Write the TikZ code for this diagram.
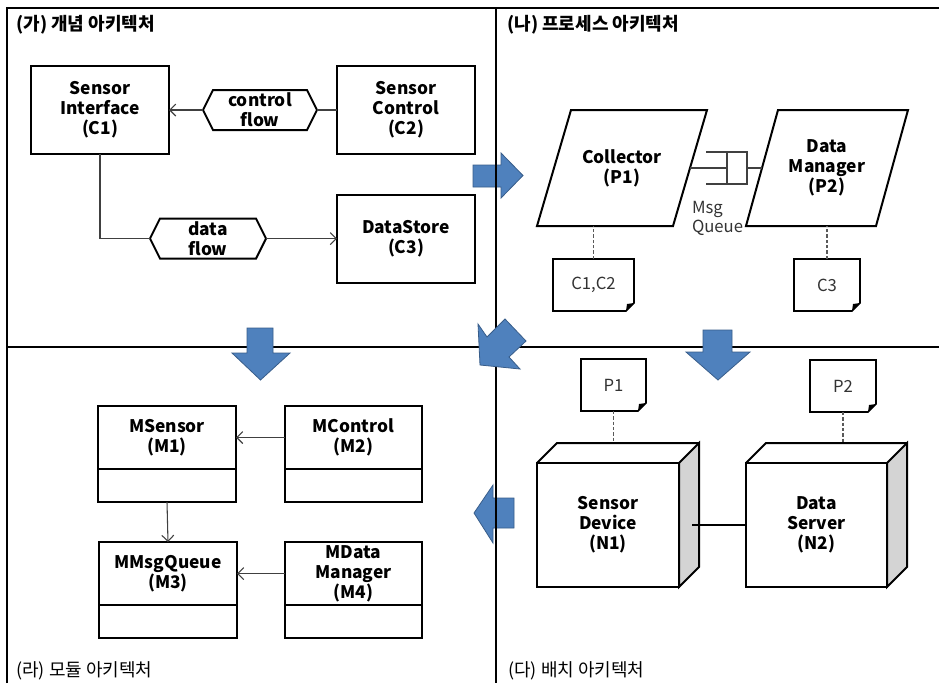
\documentclass[tikz,border=0pt]{standalone}
\usepackage{fontspec}
\setmainfont{Noto Sans CJK KR}
\usetikzlibrary{arrows.meta,calc}
\definecolor{arrowblue}{RGB}{79,129,189}
\definecolor{arrowedge}{RGB}{56,93,138}
\definecolor{nodegray}{RGB}{212,212,212}
\newcommand\mkhex[1]{\draw[shapeline] (#1.west) -- ($(#1.north west)+(10,0)$) -- ($(#1.north east)+(-10,0)$) -- (#1.east) -- ($(#1.south east)+(-10,0)$) -- ($(#1.south west)+(10,0)$) -- cycle;}
\newcommand\mkpara[2]{\draw[shapeline] ($(#1.north west)+(#2,0)$) -- ($(#1.north east)+(#2,0)$) -- ($(#1.south east)+(-#2,0)$) -- ($(#1.south west)+(-#2,0)$) -- cycle;}
\newcommand\mkdoc[1]{\draw[shapeline, line width=1.3pt] (#1.north west) -- (#1.north east) -- ($(#1.south east)+(0,-8)$) -- ($(#1.south east)+(-8,0)$) -- (#1.south west) -- cycle;
  \fill ($(#1.south east)+(0,-8)$) -- ($(#1.south east)+(-8,0)$) -- ($(#1.south east)+(-7,-7)$) -- cycle;}
\newcommand\mkcube[1]{\filldraw[shapeline, fill=nodegray] (#1.north east) -- ++(20,-20) -- ($(#1.south east)+(20,-20)$) -- (#1.south east) -- cycle;
  \draw[shapeline] (#1.north west) -- ++(20,-20) -- ($(#1.north east)+(20,-20)$);}
\begin{document}
\begin{tikzpicture}[x=0.75pt,y=-0.75pt,
  frameline/.style={line width=2.2pt},
  box/.style={draw, line width=1.5pt, inner sep=0pt, outer sep=0pt, align=center, font=\bfseries\fontsize{13}{15}\selectfont},
  shapeline/.style={line width=1.5pt, line join=miter},
  plain/.style={inner sep=0pt, outer sep=0pt, align=center, font=\bfseries\fontsize{13}{15}\selectfont},
  lighttext/.style={inner sep=0pt, outer sep=0pt, align=center, text=black!80, font=\fontsize{12.5}{14.25}\selectfont},
  conn/.style={draw=black!75, line width=0.8pt},
  arr/.style={-{Straight Barb[length=4.5pt,width=9pt,line width=0.8pt]}},
  dotconn/.style={draw=black!65, line width=0.8pt, dash pattern=on 2.5pt off 1.5pt},
  bluearrow/.style={fill=arrowblue, draw=arrowedge, line width=0.6pt, line join=miter},
  title/.style={anchor=west, inner sep=0pt, font=\fontsize{13.5}{15}\selectfont},
]
\useasboundingbox (0,0) rectangle (939,683);
\fill[white] (0,0) rectangle (939,683);

% blue arrows that sit under the vertical divider
\draw[bluearrow] (473,165) -- (501,165) -- (501,153) -- (523,175.5) -- (501,198) -- (501,187) -- (473,187) -- cycle;
\draw[bluearrow] (514,498) -- (493,498) -- (493,485) -- (474,513) -- (493,543) -- (493,528) -- (514,528) -- cycle;

% frame
\draw[frameline] (7,683) -- (7,8) -- (939,8);
\draw[frameline] (7,347) -- (939,347);
\draw[frameline] (496,8) -- (496,683);

% blue arrows on top
\draw[bluearrow] (247,328) -- (273,328) -- (273,353) -- (290,353) -- (260.5,380) -- (232,353) -- (247,353) -- cycle;
\draw[bluearrow] (703,330) -- (732,330) -- (732,352) -- (750,352) -- (718,380) -- (686,352) -- (703,352) -- cycle;
\draw[bluearrow] (478,324) -- (487,337) -- (505,319) -- (526,341) -- (509,357) -- (520,369) -- (480,365) -- cycle;

% titles
\node[title, font=\bfseries\fontsize{13.5}{15}\selectfont] (t1) at (16,25) {(가) 개념 아키텍처};
\node[title, font=\bfseries\fontsize{13.5}{15}\selectfont] (t2) at (507,25) {(나) 프로세스 아키텍처};
\node[title] (t3) at (16,671) {(라) 모듈 아키텍처};
\node[title] (t4) at (508,671) {(다) 배치 아키텍처};

% ---- (가) concept
\node[box, minimum width=103.5pt, minimum height=66pt] (C1) at (100,110) {Sensor\\Interface\\(C1)};
\node[box, minimum width=103.5pt, minimum height=66pt] (C2) at (406,110) {Sensor\\Control\\(C2)};
\node[box, minimum width=103.5pt, minimum height=66pt] (C3) at (406,238.5) {DataStore\\(C3)};
\node[plain, minimum width=85.5pt, minimum height=30pt] (cf) at (260,110) {control\\flow};
\mkhex{cf}
\node[plain, minimum width=87pt, minimum height=30pt] (df) at (208,238.5) {data\\flow};
\mkhex{df}
\draw[conn, arr] (cf.west) -- (C1.east);
\draw[conn] (C2.west) -- (cf.east);
\draw[conn] (C1.south) |- (df.west);
\draw[conn, arr] (df.east) -- (C3.west);

% ---- (나) process
\node[plain, minimum width=102pt, minimum height=87pt] (P1) at (622,168) {Collector\\(P1)};
\mkpara{P1}{17}
\node[plain, minimum width=97.5pt, minimum height=87pt] (P2) at (827,168) {Data\\Manager\\(P2)};
\mkpara{P2}{16}
\node[draw=black!75, line width=0.8pt, minimum width=15pt, minimum height=24pt, inner sep=0pt, outer sep=0pt] (Q) at (737,168) {};
\draw[conn] (P1.east) -- (Q.west);
\draw[conn] (Q.east) -- (P2.west);
\draw[conn] (Q.north east) -- ++(-41,0);
\draw[conn] (Q.south east) -- ++(-41,0);
\node[lighttext, anchor=north west, align=left] (mq) at (692,201) {Msg\\Queue};

\node[lighttext, minimum width=60.75pt, minimum height=39pt] (D1) at (593.5,285) {C1,C2};
\mkdoc{D1}
\node[lighttext, minimum width=49.5pt, minimum height=39pt] (D2) at (827,285) {C3};
\mkdoc{D2}
\draw[dotconn] (D1.north) -- (D1.north |- P1.south);
\draw[dotconn] (D2.north) -- (D2.north |- P2.south);

% ---- (다) deployment
\node[lighttext, minimum width=48.75pt, minimum height=39pt] (D3) at (613.5,385) {P1};
\mkdoc{D3}
\node[lighttext, minimum width=49.5pt, minimum height=39pt] (D4) at (843,386) {P2};
\mkdoc{D4}
\node[box, minimum width=106.5pt, minimum height=93pt] (N1) at (608,525) {Sensor\\Device\\(N1)};
\mkcube{N1}
\node[box, minimum width=105.75pt, minimum height=93pt] (N2) at (816.5,525) {Data\\Server\\(N2)};
\mkcube{N2}
\draw[dotconn] (D3.south) -- ($(D3.south |- N1.north)+(0,-20)$);
\draw[dotconn] (D4.south) -- ($(D4.south |- N2.north)+(0,-20)$);
\draw[line width=1.5pt] ($(N1.east)+(13,0)$) -- (N2.west);

% ---- (라) module
\node[box, minimum width=103.5pt, minimum height=47.25pt] (M1) at (167,437.5) {MSensor\\(M1)};
\node[box, anchor=north, minimum width=103.5pt, minimum height=24.75pt] (M1b) at (M1.south) {};
\node[box, minimum width=102.75pt, minimum height=47.25pt] (M2) at (353.5,437.5) {MControl\\(M2)};
\node[box, anchor=north, minimum width=102.75pt, minimum height=24.75pt] (M2b) at (M2.south) {};
\node[box, minimum width=103.5pt, minimum height=47.25pt] (M3) at (168,573.5) {MMsgQueue\\(M3)};
\node[box, anchor=north, minimum width=103.5pt, minimum height=24.75pt] (M3b) at (M3.south) {};
\node[box, minimum width=102.75pt, minimum height=47.25pt] (M4) at (353.5,573.5) {MData\\Manager\\(M4)};
\node[box, anchor=north, minimum width=102.75pt, minimum height=24.75pt] (M4b) at (M4.south) {};
\draw[conn, arr] (M2.west) -- (M1.east);
\draw[conn, arr] (M1b.south) -- (M3.north);
\draw[conn, arr] (M4.west) -- (M3.east);
\end{tikzpicture}
\end{document}
